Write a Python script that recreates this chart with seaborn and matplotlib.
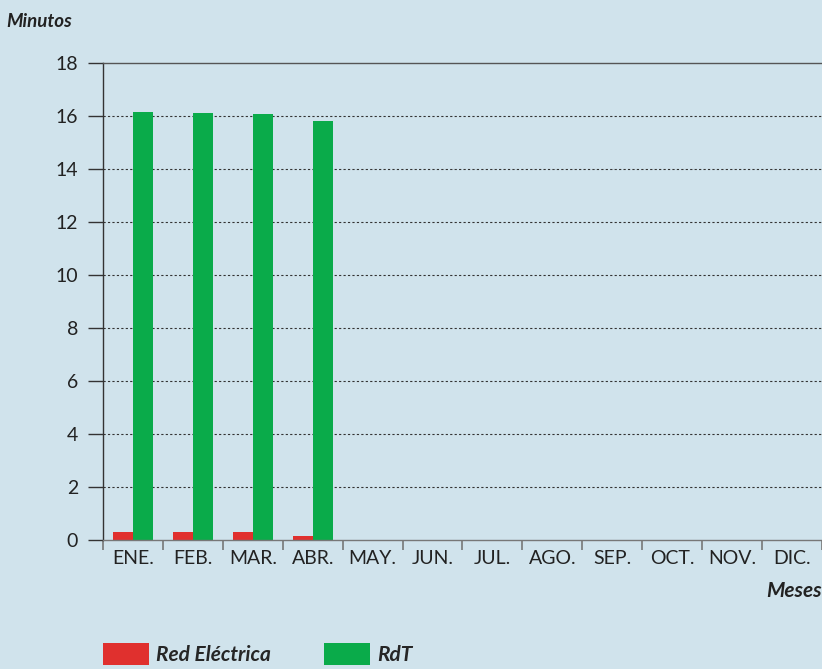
import pandas as pd
import seaborn as sns
import matplotlib.pyplot as plt
from matplotlib.patches import Patch

# datos
meses = ["ENE.", "FEB.", "MAR.", "ABR.", "MAY.", "JUN.", "JUL.", "AGO.", "SEP.", "OCT.", "NOV.", "DIC."]
red_electrica = [0.30, 0.30, 0.30, 0.15]
rdt = [16.15, 16.1, 16.08, 15.8]
series = ["Red Eléctrica", "RdT"]
colores = ["#e0302e", "#0aab4a"]

df = pd.DataFrame({
    "mes": meses[:4] * 2,
    "valor": red_electrica + rdt,
    "serie": [series[0]] * 4 + [series[1]] * 4,
})

bg = "#d0e3ec"
sns.set_style("white")
plt.rcParams["font.family"] = ["Lato", "DejaVu Sans"]

fig = plt.figure(figsize=(8.22, 6.69), dpi=100, facecolor=bg)
ax = fig.add_axes([0.1253, 0.1928, 0.8747, 0.713])
ax.set_facecolor(bg)

sns.barplot(data=df, x="mes", y="valor", hue="serie", order=meses, hue_order=series,
            palette=colores, width=0.667, saturation=1, linewidth=0, ax=ax, legend=False)

ax.set_xlim(-0.5, 11.5)
ax.set_ylim(0, 18)
ax.set_yticks(range(0, 19, 2))
ax.set_xticks([i - 0.5 for i in range(13)], minor=True)
ax.tick_params(axis="x", which="major", bottom=True, length=0, labelsize=14, labelcolor="#222222", pad=7)
ax.tick_params(axis="x", which="minor", bottom=True, length=7, color="#777777", width=1.2)
ax.tick_params(axis="y", left=True, length=11, color="#333333", width=1, labelsize=14, labelcolor="#222222", pad=7)
ax.set_xlabel("")
ax.set_ylabel("")

for y in range(2, 18, 2):
    ax.axhline(y, color="#333333", linestyle=(0, (2, 2)), linewidth=0.8, zorder=0)

ax.spines["left"].set_color("#333333")
ax.spines["top"].set_color("#555555")
ax.spines["bottom"].set_color("#777777")
ax.spines["right"].set_visible(False)
for s in ["left", "top", "bottom"]:
    ax.spines[s].set_linewidth(1)

fig.text(0.008, 0.968, "Minutos", fontsize=13.5, fontweight="bold", fontstyle="italic", color="#222222", va="center")
fig.text(1.0, 0.117, "Meses", fontsize=15, fontweight="bold", fontstyle="italic", color="#222222", va="center", ha="right")

handles = [Patch(facecolor=c, edgecolor="none") for c in colores]
fig.legend(handles, series, loc="center left", bbox_to_anchor=(0.113, 0.022), ncol=2, frameon=False,
           borderpad=0, handlelength=2.2, handleheight=1.25, columnspacing=2.55, handletextpad=0.35,
           prop={"weight": "bold", "style": "italic", "size": 15})

fig.savefig("out.png", dpi=100, facecolor=bg)
